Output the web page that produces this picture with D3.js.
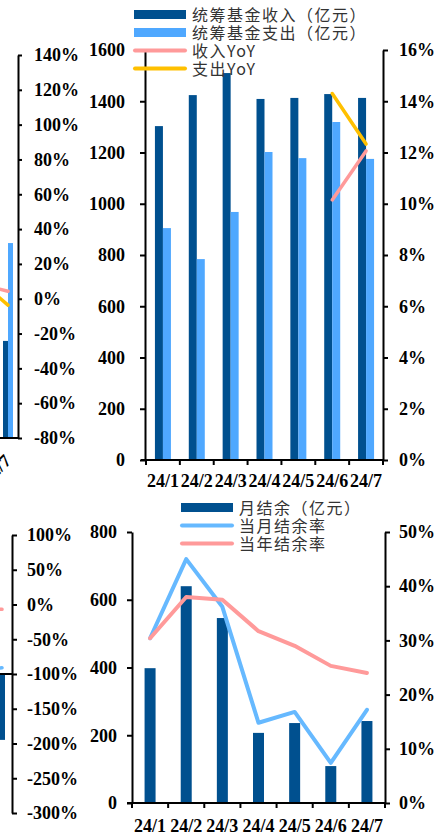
<!DOCTYPE html>
<html><head><meta charset="utf-8">
<script src="https://cdn.jsdelivr.net/npm/d3@7"></script>
<style>html,body{margin:0;padding:0;background:#fff;}svg{display:block;}</style>
</head><body>
<script>
// ---- 统筹基金 (upper panel) ----
const months = ["24/1","24/2","24/3","24/4","24/5","24/6","24/7"];
const fundIncome  = [1303, 1424, 1510, 1409, 1413, 1428, 1413];
const fundExpense = [905, 784, 968, 1202, 1178, 1319, 1175];
const incomeYoY   = [null, null, null, null, null, 10.15, 12.06];
const expenseYoY  = [null, null, null, null, null, 14.3, 12.33];
const amountTicks = [0, 200, 400, 600, 800, 1000, 1200, 1400, 1600];
const pctTicks16  = [0, 2, 4, 6, 8, 10, 12, 14, 16];

// ---- 月结余 (lower panel) ----
const monthlyBalance = [398, 640, 546, 207, 236, 109, 242];
const monthRate      = [30.4, 45.0, 36.2, 14.8, 16.8, 7.4, 17.2];
const yearRate       = [30.4, 38.0, 37.5, 31.7, 29.0, 25.3, 24.0];
const balanceTicks   = [0, 200, 400, 600, 800];
const rateTicks      = [0, 10, 20, 30, 40, 50];

// ---- neighbouring panels (only their right edge is on the page) ----
const sideMonths        = ["24/6", "24/7"];
const sideIncome        = [520, 507];
const sideExpense       = [990, 1018];
const sideIncomeYoY     = [7.2, 4.3];
const sideExpenseYoY    = [6.3, -3.7];
const sideYoYTicks      = [-80, -60, -40, -20, 0, 20, 40, 60, 80, 100, 120, 140];
const sideBalance       = [-230, -237];
const sideMonthRate     = [-95, -91];
const sideYearRate      = [-5, -7];
const sideRateTicks     = [-300, -250, -200, -150, -100, -50, 0, 50, 100];

const C = {dark: "#00508F", light: "#4FA8FF", pink: "#FF9A9A", gold: "#FFC000", lineBlue: "#66B9FF"};
const tickFont = "'Liberation Serif','Times New Roman',serif";
const cjkFont = "'Noto Sans CJK SC','Noto Sans',sans-serif";
const plain = d3.format("d");
const pct = d => d + "%";

const svg = d3.select("body").append("svg").attr("width", 438).attr("height", 833)
  .style("background", "#fff");

function styleAxis(g) {
  g.select(".domain").attr("stroke", "#000").attr("stroke-width", 2);
  g.selectAll(".tick line").attr("stroke", "#000").attr("stroke-width", 2);
  g.selectAll(".tick text").attr("fill", "#000").style("font-family", tickFont)
    .style("font-weight", "bold").style("font-size", "18px");
}
function addAxis(axis, x) {
  const g = svg.append("g").attr("transform", `translate(${x},0)`).call(axis);
  styleAxis(g);
  return g;
}
function xAxisLine(x, y, x0, x1, withTicks) {
  const g = svg.append("g");
  g.append("line").attr("x1", x0).attr("x2", x1).attr("y1", y).attr("y2", y)
    .attr("stroke", "#000").attr("stroke-width", 2);
  if (withTicks) {
    const edges = x.domain().map(d => x(d)).concat([x.range()[1]]);
    g.selectAll("line.t").data(edges).join("line").attr("class", "t")
      .attr("x1", d => d).attr("x2", d => d).attr("y1", y).attr("y2", y + 5)
      .attr("stroke", "#000").attr("stroke-width", 2);
  }
}
function monthLabels(x, y) {
  svg.append("g").selectAll("text").data(x.domain()).join("text")
    .attr("x", d => x(d) + x.bandwidth() / 2).attr("y", y)
    .attr("text-anchor", "middle").style("font-family", tickFont)
    .style("font-weight", "bold").style("font-size", "18px").attr("fill", "#000")
    .text(d => d);
}
function drawLine(x, y, values, color, width) {
  const pts = x.domain().map((d, i) => [d, values[i]]);
  svg.append("path").datum(pts)
    .attr("fill", "none").attr("stroke", color).attr("stroke-width", width)
    .attr("stroke-linejoin", "round").attr("stroke-linecap", "round")
    .attr("d", d3.line().defined(p => p[1] != null)
      .x(p => x(p[0]) + x.bandwidth() / 2).y(p => y(p[1])));
}
function legend(items, x0, y0, step) {
  const g = svg.append("g");
  items.forEach((it, i) => {
    const cy = y0 + i * step;
    if (it.type === "rect") {
      g.append("rect").attr("x", x0).attr("y", cy - 4.5).attr("width", 52).attr("height", 9).attr("fill", it.color);
    } else {
      g.append("line").attr("x1", x0 + 1).attr("x2", x0 + 51).attr("y1", cy).attr("y2", cy)
        .attr("stroke", it.color).attr("stroke-width", 4).attr("stroke-linecap", "round");
    }
    g.append("text").attr("x", x0 + 58).attr("y", cy + 6).text(it.label)
      .style("font-family", cjkFont).style("font-size", "16px").style("letter-spacing", "1.5px")
      .attr("fill", "#333");
  });
}

// ================= upper-left neighbour (cut off) =================
{
  const x = d3.scaleBand().domain(sideMonths).range([-22, 18]);
  const yAmt = d3.scaleLinear().domain([0, 2000]).range([438, 55]);
  const yPct = d3.scaleLinear().domain([-80, 140]).range([438, 55]);
  const bw = 5;
  svg.append("g").selectAll("rect").data(sideMonths).join("rect")
    .attr("x", d => x(d) + x.bandwidth() / 2 - bw).attr("width", bw)
    .attr("y", (d, i) => yAmt(sideIncome[i])).attr("height", (d, i) => yAmt(0) - yAmt(sideIncome[i]))
    .attr("fill", C.dark);
  svg.append("g").selectAll("rect").data(sideMonths).join("rect")
    .attr("x", d => x(d) + x.bandwidth() / 2).attr("width", bw)
    .attr("y", (d, i) => yAmt(sideExpense[i])).attr("height", (d, i) => yAmt(0) - yAmt(sideExpense[i]))
    .attr("fill", C.light);
  drawLine(x, yPct, sideIncomeYoY, C.pink, 3.5);
  drawLine(x, yPct, sideExpenseYoY, C.gold, 3.5);
  xAxisLine(x, 438, -5, 18, false);
  addAxis(d3.axisRight(yPct).tickValues(sideYoYTicks).tickFormat(pct).tickSize(4).tickPadding(12).tickSizeOuter(0), 18);
  svg.append("g").selectAll("text").data(sideMonths.slice(-1)).join("text")
    .attr("transform", d => `translate(${x(d) + x.bandwidth() / 2 + 4},462) rotate(-45)`)
    .attr("text-anchor", "end").style("font-family", tickFont).style("font-weight", "bold")
    .style("font-size", "18px").attr("fill", "#000").text(d => d);
}

// ================= upper panel: 统筹基金 =================
{
  const x = d3.scaleBand().domain(months).range([146, 383]);
  const yAmt = d3.scaleLinear().domain([0, 1600]).range([460, 50]);
  const yPct = d3.scaleLinear().domain([0, 16]).range([460, 50]);
  const bw = 8;
  svg.append("g").selectAll("rect").data(months).join("rect")
    .attr("x", d => x(d) + x.bandwidth() / 2 - bw).attr("width", bw)
    .attr("y", (d, i) => yAmt(fundIncome[i])).attr("height", (d, i) => yAmt(0) - yAmt(fundIncome[i]))
    .attr("fill", C.dark);
  svg.append("g").selectAll("rect").data(months).join("rect")
    .attr("x", d => x(d) + x.bandwidth() / 2).attr("width", bw)
    .attr("y", (d, i) => yAmt(fundExpense[i])).attr("height", (d, i) => yAmt(0) - yAmt(fundExpense[i]))
    .attr("fill", C.light);
  drawLine(x, yPct, incomeYoY, C.pink, 3.5);
  drawLine(x, yPct, expenseYoY, C.gold, 3.5);
  xAxisLine(x, 460, 141, 384, true);
  addAxis(d3.axisLeft(yAmt).tickValues(amountTicks).tickFormat(plain).tickSize(5).tickPadding(15).tickSizeOuter(0), 145);
  addAxis(d3.axisRight(yPct).tickValues(pctTicks16).tickFormat(pct).tickSize(5).tickPadding(11).tickSizeOuter(0), 383);
  monthLabels(x, 487);
  legend([
    {type: "rect", color: C.dark, label: "统筹基金收入（亿元）"},
    {type: "rect", color: C.light, label: "统筹基金支出（亿元）"},
    {type: "line", color: C.pink, label: "收入YoY"},
    {type: "line", color: C.gold, label: "支出YoY"}
  ], 134, 14.5, 18);
}

// ================= lower-left neighbour (cut off) =================
{
  const x = d3.scaleBand().domain(sideMonths).range([-28, 12]);
  const yAmt = d3.scaleLinear().domain([-500, 500]).range([813, 535]);
  const yPct = d3.scaleLinear().domain([-300, 100]).range([813, 535]);
  const bw = 6;
  svg.append("g").selectAll("rect").data(sideMonths).join("rect")
    .attr("x", d => x(d) + x.bandwidth() / 2 - bw / 2).attr("width", bw)
    .attr("y", (d, i) => Math.min(yAmt(0), yAmt(sideBalance[i])))
    .attr("height", (d, i) => Math.abs(yAmt(0) - yAmt(sideBalance[i])))
    .attr("fill", C.dark);
  drawLine(x, yPct, sideMonthRate, C.lineBlue, 3.5);
  drawLine(x, yPct, sideYearRate, C.pink, 3.5);
  xAxisLine(x, yAmt(0), -5, 12, false);
  addAxis(d3.axisRight(yPct).tickValues(sideRateTicks).tickFormat(pct).tickSize(5).tickPadding(10).tickSizeOuter(0), 12);
}

// ================= lower panel: 月结余 =================
{
  const x = d3.scaleBand().domain(months).range([132, 385]);
  const yAmt = d3.scaleLinear().domain([0, 800]).range([803, 532]);
  const yPct = d3.scaleLinear().domain([0, 50]).range([803, 532]);
  const bw = 11;
  svg.append("g").selectAll("rect").data(months).join("rect")
    .attr("x", d => x(d) + x.bandwidth() / 2 - bw / 2).attr("width", bw)
    .attr("y", (d, i) => yAmt(monthlyBalance[i])).attr("height", (d, i) => yAmt(0) - yAmt(monthlyBalance[i]))
    .attr("fill", C.dark);
  drawLine(x, yPct, monthRate, C.lineBlue, 4);
  drawLine(x, yPct, yearRate, C.pink, 4);
  xAxisLine(x, 803, 127, 386, true);
  addAxis(d3.axisLeft(yAmt).tickValues(balanceTicks).tickFormat(plain).tickSize(5).tickPadding(10).tickSizeOuter(0), 132);
  addAxis(d3.axisRight(yPct).tickValues(rateTicks).tickFormat(pct).tickSize(5).tickPadding(9).tickSizeOuter(0), 385);
  monthLabels(x, 832);
  legend([
    {type: "rect", color: C.dark, label: "月结余（亿元）"},
    {type: "line", color: C.lineBlue, label: "当月结余率"},
    {type: "line", color: C.pink, label: "当年结余率"}
  ], 181, 507.5, 18);
}
</script>
</body></html>
